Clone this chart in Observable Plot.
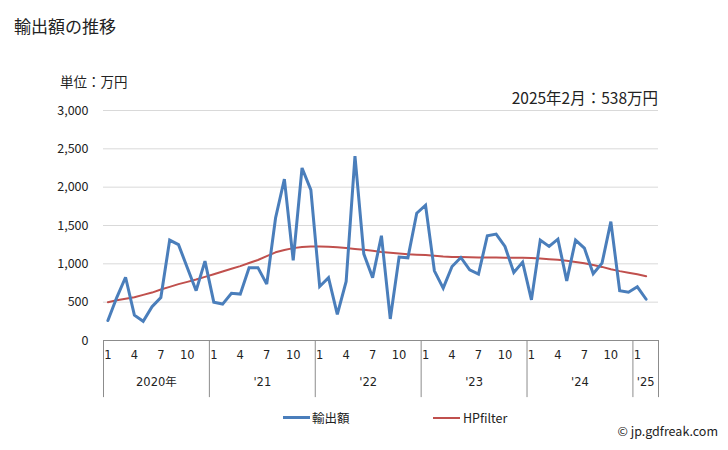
<!DOCTYPE html>
<html><head><meta charset="utf-8">
<script src="https://cdn.jsdelivr.net/npm/d3@7"></script>
<script src="https://cdn.jsdelivr.net/npm/@observablehq/plot@0.6"></script>
<style>
body{margin:0;background:#fff;}
#wrap{position:relative;width:728px;height:450px;font-family:"Noto Sans CJK JP","Noto Sans",sans-serif;color:#222;overflow:hidden;}
.abs{position:absolute;white-space:nowrap;}
</style></head>
<body><div id="wrap">
<div class="abs" style="left:14px;top:13px;font-size:17px;">輸出額の推移</div>
<div class="abs" style="left:60px;top:71px;font-size:13.5px;">単位：万円</div>
<div class="abs" style="right:70px;top:86px;font-size:15.5px;">2025年2月：538万円</div>
<div class="abs" style="left:283px;top:416px;width:27px;height:3px;background:#4a7ebb;"></div>
<div class="abs" style="left:312px;top:408px;font-size:12.5px;">輸出額</div>
<div class="abs" style="left:433px;top:417px;width:27px;height:2px;background:#c0504d;"></div>
<div class="abs" style="left:463px;top:408px;font-size:12.5px;">HPfilter</div>
<div class="abs" style="right:10px;top:421px;font-size:12.5px;">© jp.gdfreak.com</div>
</div>
<script>
const years = [2020, 2021, 2022, 2023, 2024, 2025];
const yearLabels = ["2020年", "'21", "'22", "'23", "'24", "'25"];
const monthTicks = [1, 4, 7, 10];
const exports = [
  260, 560, 825, 330, 250, 440, 560, 1310, 1250, 950, 650, 1035,
  500, 475, 615, 605, 950, 950, 735, 1598, 2105, 1045, 2250, 1965,
  705, 820, 342, 770, 2405, 1130, 820, 1366, 281, 1088, 1079, 1660,
  1765, 909, 683, 965, 1083, 922, 866, 1366, 1388, 1227, 887, 1022,
  530, 1310, 1227, 1322, 778, 1310, 1205, 870, 1009, 1550, 650, 630,
  700, 538
];
const hp = [
  500, 525, 545, 565, 595, 625, 665, 700, 735, 765, 795, 830,
  865, 900, 935, 970, 1010, 1050, 1100, 1150, 1180, 1205, 1220, 1225,
  1225, 1222, 1215, 1205, 1195, 1185, 1170, 1155, 1145, 1135, 1125, 1120,
  1115, 1105, 1095, 1090, 1088, 1085, 1083, 1082, 1082, 1080, 1080, 1078,
  1075, 1068, 1060, 1052, 1040, 1025, 1008, 985, 960, 930, 905, 885,
  865, 838
];
const yTicks = [0, 500, 1000, 1500, 2000, 2500, 3000];

const data = exports.map((v, i) => ({i, v, h: hp[i], y: years[Math.floor(i / 12)], m: i % 12 + 1}));
const monthLabels = data.filter(d => monthTicks.includes(d.m));
const yearInfo = years.map((y, k) => {
  const idx = data.filter(d => d.y === y).map(d => d.i);
  const start = idx[0] - 0.5;
  const end = k === years.length - 1 ? 62.4 : idx[idx.length - 1] + 0.5;
  return {label: yearLabels[k], start, mid: (start + end) / 2, end};
});
const seps = yearInfo.map(d => d.start).concat([62.4]);

const chart = Plot.plot({
  width: 728, height: 450,
  marginLeft: 103, marginRight: 70, marginTop: 110, marginBottom: 110,
  style: {fontFamily: "'Noto Sans CJK JP', sans-serif", fontSize: "12.5px", color: "#222", background: "transparent"},
  x: {domain: [-0.5, 62.4], axis: null},
  y: {domain: [0, 3000], ticks: yTicks, tickFormat: d3.format(","), tickSize: 0, tickPadding: 15, label: null, grid: false},
  marks: [
    Plot.ruleY(yTicks.filter(t => t > 0), {stroke: "#d9d9d9", strokeWidth: 1}),
    Plot.axisY({ticks: yTicks, tickFormat: d3.format(","), tickSize: 0, tickPadding: 15, label: null, fontSize: 12.5}),
    Plot.ruleY([0], {stroke: "#8c8c8c", strokeWidth: 1}),
    Plot.ruleX(seps, {y1: 0, y2: -745, stroke: "#8c8c8c", strokeWidth: 1}),
    Plot.text(monthLabels, {x: "i", y: 0, dy: 15, text: d => String(d.m), fontFamily: "'DejaVu Sans', sans-serif", fontSize: 11.5, fill: "#222"}),
    Plot.text(yearInfo, {x: "mid", y: 0, dy: 42, text: "label", fontFamily: "'DejaVu Sans', 'Noto Sans CJK JP', sans-serif", fontSize: 11.5, fill: "#222"}),
    Plot.line(data, {x: "i", y: "h", stroke: "#c0504d", strokeWidth: 2}),
    Plot.line(data, {x: "i", y: "v", stroke: "#4a7ebb", strokeWidth: 3, strokeLinejoin: "miter", strokeMiterlimit: 3})
  ]
});
chart.style.position = "absolute";
chart.style.left = "0";
chart.style.top = "0";
document.getElementById("wrap").prepend(chart);
</script>
</body></html>
